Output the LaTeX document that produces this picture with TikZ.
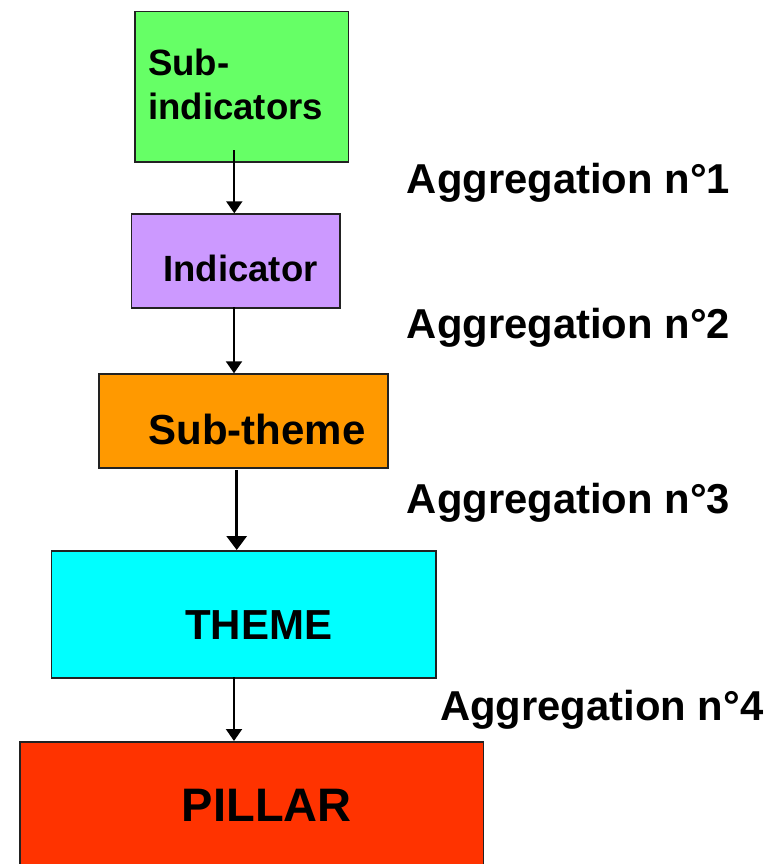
\documentclass[tikz,border=0pt]{standalone}
\usepackage{fontspec}
\setmainfont{Liberation Sans}
\usetikzlibrary{arrows.meta}
\definecolor{cgreen}{HTML}{66FF66}
\definecolor{cpurple}{HTML}{CC99FF}
\definecolor{corange}{HTML}{FF9900}
\definecolor{ccyan}{HTML}{00FFFF}
\definecolor{cred}{HTML}{FF3300}
\definecolor{cborder}{HTML}{222222}
\tikzset{
  box/.style={draw=cborder, line width=1.5pt, rectangle, inner sep=0pt, anchor=north west},
  lbl/.style={inner sep=0pt, anchor=base west, font=\bfseries\fontsize{#1}{#1}\selectfont},
  agg/.style={inner sep=0pt, anchor=base west, font=\bfseries\fontsize{41.8}{44}\selectfont},
  arr/.style={line width=2pt, -{Triangle[width=16pt,length=12pt]}},
  arrthick/.style={line width=3pt, -{Triangle[width=20pt,length=14pt]}}
}
\begin{document}
\begin{tikzpicture}[x=1pt,y=-1pt]
\clip (0,0) rectangle (776,864);
\fill[white] (0,0) rectangle (776,864);
% boxes
\node[box, fill=cgreen, minimum width=213.7pt, minimum height=150.5pt] (g) at (134,10.7) {};
\node[box, fill=cpurple, minimum width=208.3pt, minimum height=93.7pt] (p) at (130.7,213.3) {};
\node[box, fill=corange, minimum width=289pt, minimum height=94pt] (o) at (98.3,373.3) {};
\node[box, fill=ccyan, minimum width=384.3pt, minimum height=127.3pt] (c) at (50.7,550) {};
\node[box, fill=cred, minimum width=463.7pt, minimum height=160pt] (r) at (19,741) {};
% texts
\node[inner sep=0pt, anchor=base west, align=left, font=\bfseries\fontsize{36.6}{44}\selectfont] (tg) at (148,120) {Sub-\\indicators};
\node[lbl=36.5] (tp) at (163.3,281.7) {Indicator};
\node[lbl=42] (to) at (148.3,444) {Sub-theme};
\node[lbl=42] (tc) at (185,639.3) {THEME};
\node[lbl=47] (tr) at (181.7,821) {PILLAR};
% aggregation labels
\node[agg] (a1) at (406.7,193.3) {Aggregation n°1};
\node[agg] (a2) at (406.7,338.3) {Aggregation n°2};
\node[agg] (a3) at (406.7,513.3) {Aggregation n°3};
\node[agg] (a4) at (440,720) {Aggregation n°4};
% arrows
\coordinate (s1) at (234.3,150);
\coordinate (s2) at (234,307);
\coordinate (s3) at (236.7,470);
\coordinate (s4) at (234,677.3);
\draw[arr] (s1) -- (s1 |- p.north);
\draw[arr] (s2) -- (s2 |- o.north);
\draw[arrthick] (s3) -- (s3 |- c.north);
\draw[arr] (s4) -- (s4 |- r.north);
\end{tikzpicture}
\end{document}
